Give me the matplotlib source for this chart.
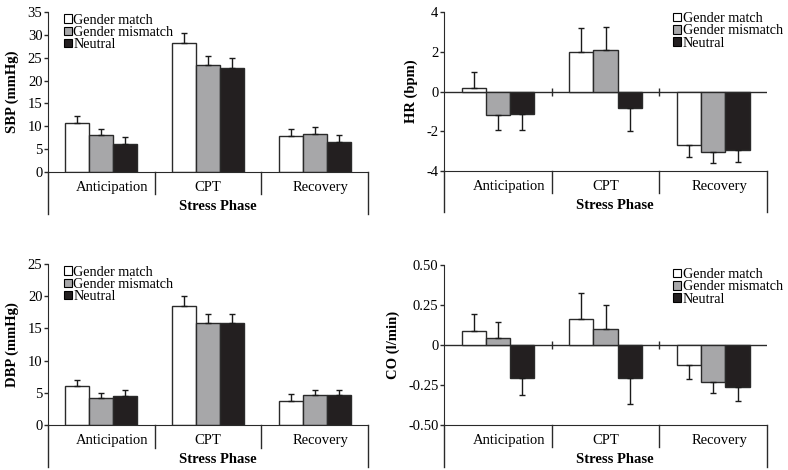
import matplotlib
matplotlib.use('Agg')
import matplotlib.pyplot as plt
from matplotlib.patches import Patch
import numpy as np

plt.rcParams['font.family'] = ['Liberation Serif', 'DejaVu Serif']

phases = ['Anticipation', 'CPT', 'Recovery']
conditions = ['Gender match', 'Gender mismatch', 'Neutral']

# means per condition, one value per phase
sbp_match = [10.7, 28.2, 7.9]
sbp_mismatch = [8.0, 23.4, 8.3]
sbp_neutral = [6.2, 22.8, 6.6]
sbp_err_match = [1.6, 2.3, 1.6]
sbp_err_mismatch = [1.5, 1.9, 1.5]
sbp_err_neutral = [1.5, 2.1, 1.4]

hr_match = [0.2, 2.0, -2.7]
hr_mismatch = [-1.2, 2.1, -3.05]
hr_neutral = [-1.15, -0.85, -2.95]
hr_err_match = [0.8, 1.2, 0.6]
hr_err_mismatch = [0.75, 1.15, 0.55]
hr_err_neutral = [0.8, 1.15, 0.6]

dbp_match = [6.1, 18.5, 3.8]
dbp_mismatch = [4.25, 15.9, 4.7]
dbp_neutral = [4.5, 15.8, 4.6]
dbp_err_match = [0.9, 1.5, 1.0]
dbp_err_mismatch = [0.75, 1.4, 0.8]
dbp_err_neutral = [0.9, 1.5, 0.9]

co_match = [0.09, 0.16, -0.125]
co_mismatch = [0.046, 0.10, -0.23]
co_neutral = [-0.205, -0.205, -0.265]
co_err_match = [0.105, 0.165, 0.085]
co_err_mismatch = [0.095, 0.15, 0.07]
co_err_neutral = [0.105, 0.165, 0.085]

colors = ['white', '#a7a7a9', '#231f20']
edge = '#2a2a2a'


def draw_panel(ax, means, errs, ylabel, yticks, yticklabels, leg_anchor, zero_line):
    x = np.arange(len(phases))
    w = 0.225
    for i, (m, e) in enumerate(zip(means, errs)):
        m = np.array(m)
        e = np.array(e)
        pos = x + (i - 1) * w
        ax.bar(pos, m, w, color=colors[i], edgecolor=edge, linewidth=1, zorder=2)
        lower = np.where(m < 0, e, 0)
        upper = np.where(m >= 0, e, 0)
        ax.errorbar(pos, m, yerr=[lower, upper], fmt='none', ecolor='#1a1a1a',
                    elinewidth=1, capsize=2.5, capthick=1, zorder=3)

    ax.set_xlim(-0.5, len(phases) - 0.5)
    ax.set_ylim(yticks[0], yticks[-1])
    ax.set_yticks(yticks)
    ax.set_yticklabels(yticklabels, fontsize=10.5)
    ax.tick_params(axis='y', direction='out', length=3, width=1, color=edge, pad=1)
    ax.set_xticks([])
    ax.set_ylabel(ylabel, fontsize=10.5, fontweight='bold', labelpad=6)

    ax.spines['top'].set_visible(False)
    ax.spines['right'].set_visible(False)
    ax.spines['left'].set_color(edge)
    ax.spines['bottom'].set_color(edge)

    if zero_line:
        ax.axhline(0, color=edge, lw=1, zorder=1)
        ax.plot([0.5, 1.5], [0, 0], ls='none', marker='|', ms=6, mew=1, color=edge)

    # category box below the axis
    tr = ax.get_xaxis_transform()
    for b in [0.5, 1.5]:
        ax.plot([b, b], [0, -0.14], color=edge, lw=1, transform=tr, clip_on=False)
    for b in [-0.5, len(phases) - 0.5]:
        ax.plot([b, b], [0, -0.26], color=edge, lw=1, transform=tr, clip_on=False)
    offsets = [0.1, 0.0, 0.06]
    for xi, name, off in zip(x, phases, offsets):
        ax.text(xi + off, -0.095, name, transform=tr, ha='center', va='center', fontsize=10.5)
    ax.text(0.53, -0.215, 'Stress Phase', transform=ax.transAxes, ha='center',
            va='center', fontsize=10.5, fontweight='bold')

    handles = [Patch(facecolor=c, edgecolor='black', linewidth=0.8) for c in colors]
    ax.legend(handles, conditions, loc='upper left', bbox_to_anchor=leg_anchor,
              frameon=False, fontsize=10.2, handlelength=0.55, handleheight=0.55,
              handletextpad=0.1, labelspacing=-0.05, borderaxespad=0, borderpad=0)


fig = plt.figure(figsize=(7.88, 4.70), dpi=100)
ax1 = fig.add_axes([0.0609, 0.634, 0.406, 0.3405])
ax2 = fig.add_axes([0.5635, 0.636, 0.41, 0.3385])
ax3 = fig.add_axes([0.0609, 0.0957, 0.406, 0.3426])
ax4 = fig.add_axes([0.5635, 0.0957, 0.41, 0.3405])

draw_panel(ax1, [sbp_match, sbp_mismatch, sbp_neutral],
           [sbp_err_match, sbp_err_mismatch, sbp_err_neutral],
           'SBP (mmHg)', [0, 5, 10, 15, 20, 25, 30, 35],
           ['0', '5', '10', '15', '20', '25', '30', '35'], (0.05, 0.99), False)
draw_panel(ax2, [hr_match, hr_mismatch, hr_neutral],
           [hr_err_match, hr_err_mismatch, hr_err_neutral],
           'HR (bpm)', [-4, -2, 0, 2, 4], ['-4', '-2', '0', '2', '4'],
           (0.71, 1.0), True)
draw_panel(ax3, [dbp_match, dbp_mismatch, dbp_neutral],
           [dbp_err_match, dbp_err_mismatch, dbp_err_neutral],
           'DBP (mmHg)', [0, 5, 10, 15, 20, 25],
           ['0', '5', '10', '15', '20', '25'], (0.05, 0.99), False)
draw_panel(ax4, [co_match, co_mismatch, co_neutral],
           [co_err_match, co_err_mismatch, co_err_neutral],
           'CO (l/min)', [-0.5, -0.25, 0, 0.25, 0.5],
           ['-0.50', '-0.25', '0', '0.25', '0.50'], (0.71, 0.98), True)

fig.savefig('out.png', dpi=100)
